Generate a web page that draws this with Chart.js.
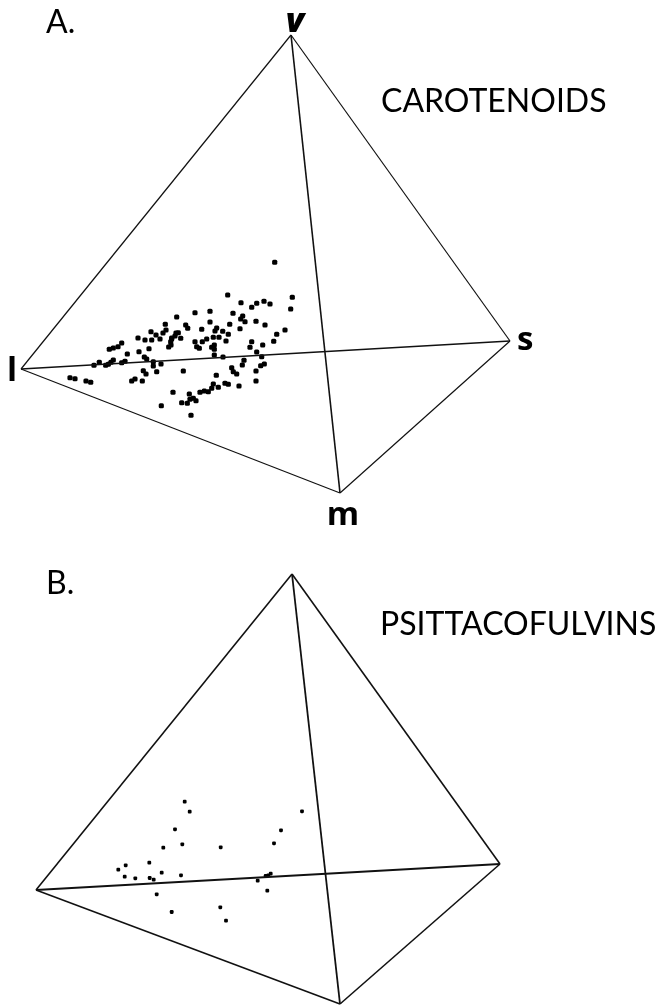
<!DOCTYPE html>
<html>
<head>
<meta charset="utf-8">
<title>Carotenoids and psittacofulvins</title>
<script src="https://cdn.jsdelivr.net/npm/chart.js@4/dist/chart.umd.min.js"></script>
<style>
  html, body { margin: 0; padding: 0; background: #ffffff; overflow: hidden; }
  canvas { display: block; }
</style>
</head>
<body>
<canvas id="chart" width="660" height="1005"></canvas>
<script>
// vertices of the two tetrahedra, order: v, l, s, m
const vertexNames = ['v', 'l', 's', 'm'];
const tetraAX = [291, 21, 510, 340];
const tetraAY = [35, 369, 341, 493];
const tetraBX = [292, 36, 500, 340];
const tetraBY = [574, 890, 864, 1004];

// edges as pairs of vertex indexes
const edgeFrom = [0, 0, 0, 1, 1, 2];
const edgeTo = [1, 2, 3, 2, 3, 3];
const edgeWidthA = [1.2, 1.2, 1.6, 1.6, 1.2, 1.2];
const edgeWidthB = [1.6, 1.6, 1.8, 1.8, 1.6, 1.6];

// A. carotenoids
const carotenoidsX = [176.7, 165.3, 166, 163, 151, 156, 138, 145, 151.7, 160, 176, 171.7, 170.7, 168.7, 149, 121.7, 118, 113.3, 109.3, 127.3, 139, 144.3, 146.7, 153.3, 153.3, 161, 156.7, 121.7, 125, 113.3, 111, 108.3, 105.7, 99.3, 94, 143.3, 146, 70, 75, 86, 90.7, 135, 131.7, 142.3, 173, 161.3, 274.7, 227.7, 292.3, 241, 256.7, 264, 270, 251.7, 290.7, 210, 233, 195, 242.7, 240.7, 245, 256, 265, 210, 229.7, 185.7, 187.7, 201.7, 216.7, 215, 222.7, 240, 285, 276.7, 228.3, 213.3, 219, 206.7, 202.3, 195, 226, 251.7, 273.7, 196.7, 199.3, 211.7, 214.3, 214.3, 250, 262.7, 256.7, 214.3, 223, 261.7, 244, 242.3, 264.3, 260.7, 231.7, 183.3, 233.3, 236.7, 256, 216.3, 256, 225, 228.3, 213.3, 239, 218.3, 211.7, 208.3, 204.3, 200, 189.3, 193.3, 196, 190, 187.3, 181.7, 191, 178.3, 175, 180.7, 171.7, 171];
const carotenoidsY = [317, 324.3, 330, 333, 331.7, 335, 338, 340, 340, 339, 333, 338, 341.7, 347, 348.7, 343, 346.7, 348, 349.3, 354, 351.7, 357, 359, 361.7, 366, 364, 371.7, 362.7, 361.3, 360, 362.3, 364.3, 365.3, 362.3, 365.3, 370.7, 374, 377.7, 378.7, 381, 382.3, 379, 381, 381, 392.3, 405.7, 262.3, 295, 297.3, 302.7, 303.3, 301.3, 304, 307.3, 309, 311.3, 313.3, 312.7, 316, 319, 321.7, 321.3, 325, 322, 324.3, 325, 328.3, 329.3, 328, 331, 331.3, 328.7, 330, 334.3, 334.3, 337.3, 337.3, 339, 341.7, 341.7, 341, 341.7, 341.3, 346.7, 348.3, 347.3, 345, 349.3, 347.3, 345, 352, 355, 357, 356.7, 360.3, 365, 364, 365.7, 367.7, 371, 371.7, 374, 371, 375.3, 381, 383.3, 384.3, 384, 386, 387.3, 388.3, 391.7, 391, 392.3, 394, 398.3, 400.7, 399.3, 403.3, 402.7, 415.3, 332.7, 336, 338.3, 339, 345];

// B. psittacofulvins
const psittacofulvinsX = [184.7, 189.7, 302, 175, 281, 182.3, 274, 163.3, 220.7, 149.3, 125.7, 118.3, 161.7, 181, 124.7, 135.3, 149.7, 153.7, 270.7, 268.3, 265.7, 257.7, 267.3, 156.7, 220.3, 171.7, 226];
const psittacofulvinsY = [801.7, 811.7, 811.3, 829.3, 830.3, 844.3, 843.3, 847.7, 847.3, 862.7, 865.3, 869.7, 872.7, 875.3, 876.7, 878.3, 878, 879.7, 873.7, 875.3, 876, 880.7, 890.7, 894.3, 907.3, 912, 920.7];

// text on the figure
const labelTexts = ['A.', 'B.', 'CAROTENOIDS', 'PSITTACOFULVINS', 'v', 'l', 's', 'm'];
const labelX = [46, 46, 381, 380, 295, 12, 517, 343];
const labelY = [33, 594, 112, 635, 32, 381, 350, 525];
const labelFonts = [
  '32px Lato', '32px Lato', '32px Lato', '32px Lato',
  'italic 900 34px "Open Sans"', 'bold 33px "Open Sans"', 'bold 33px "Open Sans"', 'bold 33px "Open Sans"'
];
const labelAligns = ['left', 'left', 'left', 'left', 'center', 'center', 'left', 'center'];

function edgeDatasets(xs, ys, widths) {
  return edgeFrom.map((from, i) => ({
    type: 'scatter',
    showLine: true,
    data: [{ x: xs[from], y: ys[from] }, { x: xs[edgeTo[i]], y: ys[edgeTo[i]] }],
    borderColor: '#111111',
    borderWidth: widths[i],
    pointRadius: 0,
    clip: false
  }));
}

function pointDataset(xs, ys, radius) {
  return {
    type: 'scatter',
    data: xs.map((x, i) => ({ x: x, y: ys[i] })),
    backgroundColor: '#000000',
    borderWidth: 0,
    pointStyle: 'rectRounded',
    pointRadius: radius
  };
}

const figureLabels = {
  id: 'figureLabels',
  afterDatasetsDraw(chart) {
    const { ctx, scales: { x, y } } = chart;
    ctx.save();
    ctx.fillStyle = '#000000';
    ctx.textBaseline = 'alphabetic';
    labelTexts.forEach((text, i) => {
      ctx.font = labelFonts[i];
      ctx.textAlign = labelAligns[i];
      ctx.fillText(text, x.getPixelForValue(labelX[i]), y.getPixelForValue(labelY[i]));
    });
    ctx.restore();
  }
};

new Chart(document.getElementById('chart'), {
  type: 'scatter',
  data: {
    datasets: [
      ...edgeDatasets(tetraAX, tetraAY, edgeWidthA),
      ...edgeDatasets(tetraBX, tetraBY, edgeWidthB),
      pointDataset(carotenoidsX, carotenoidsY, 3),
      pointDataset(psittacofulvinsX, psittacofulvinsY, 2.2)
    ]
  },
  plugins: [figureLabels],
  options: {
    responsive: false,
    animation: false,
    layout: { padding: 0, autoPadding: false },
    scales: {
      x: { type: 'linear', min: 0, max: 660, display: false },
      y: { type: 'linear', min: 0, max: 1005, reverse: true, display: false }
    },
    plugins: {
      legend: { display: false },
      tooltip: { enabled: false }
    }
  }
});
</script>
</body>
</html>
